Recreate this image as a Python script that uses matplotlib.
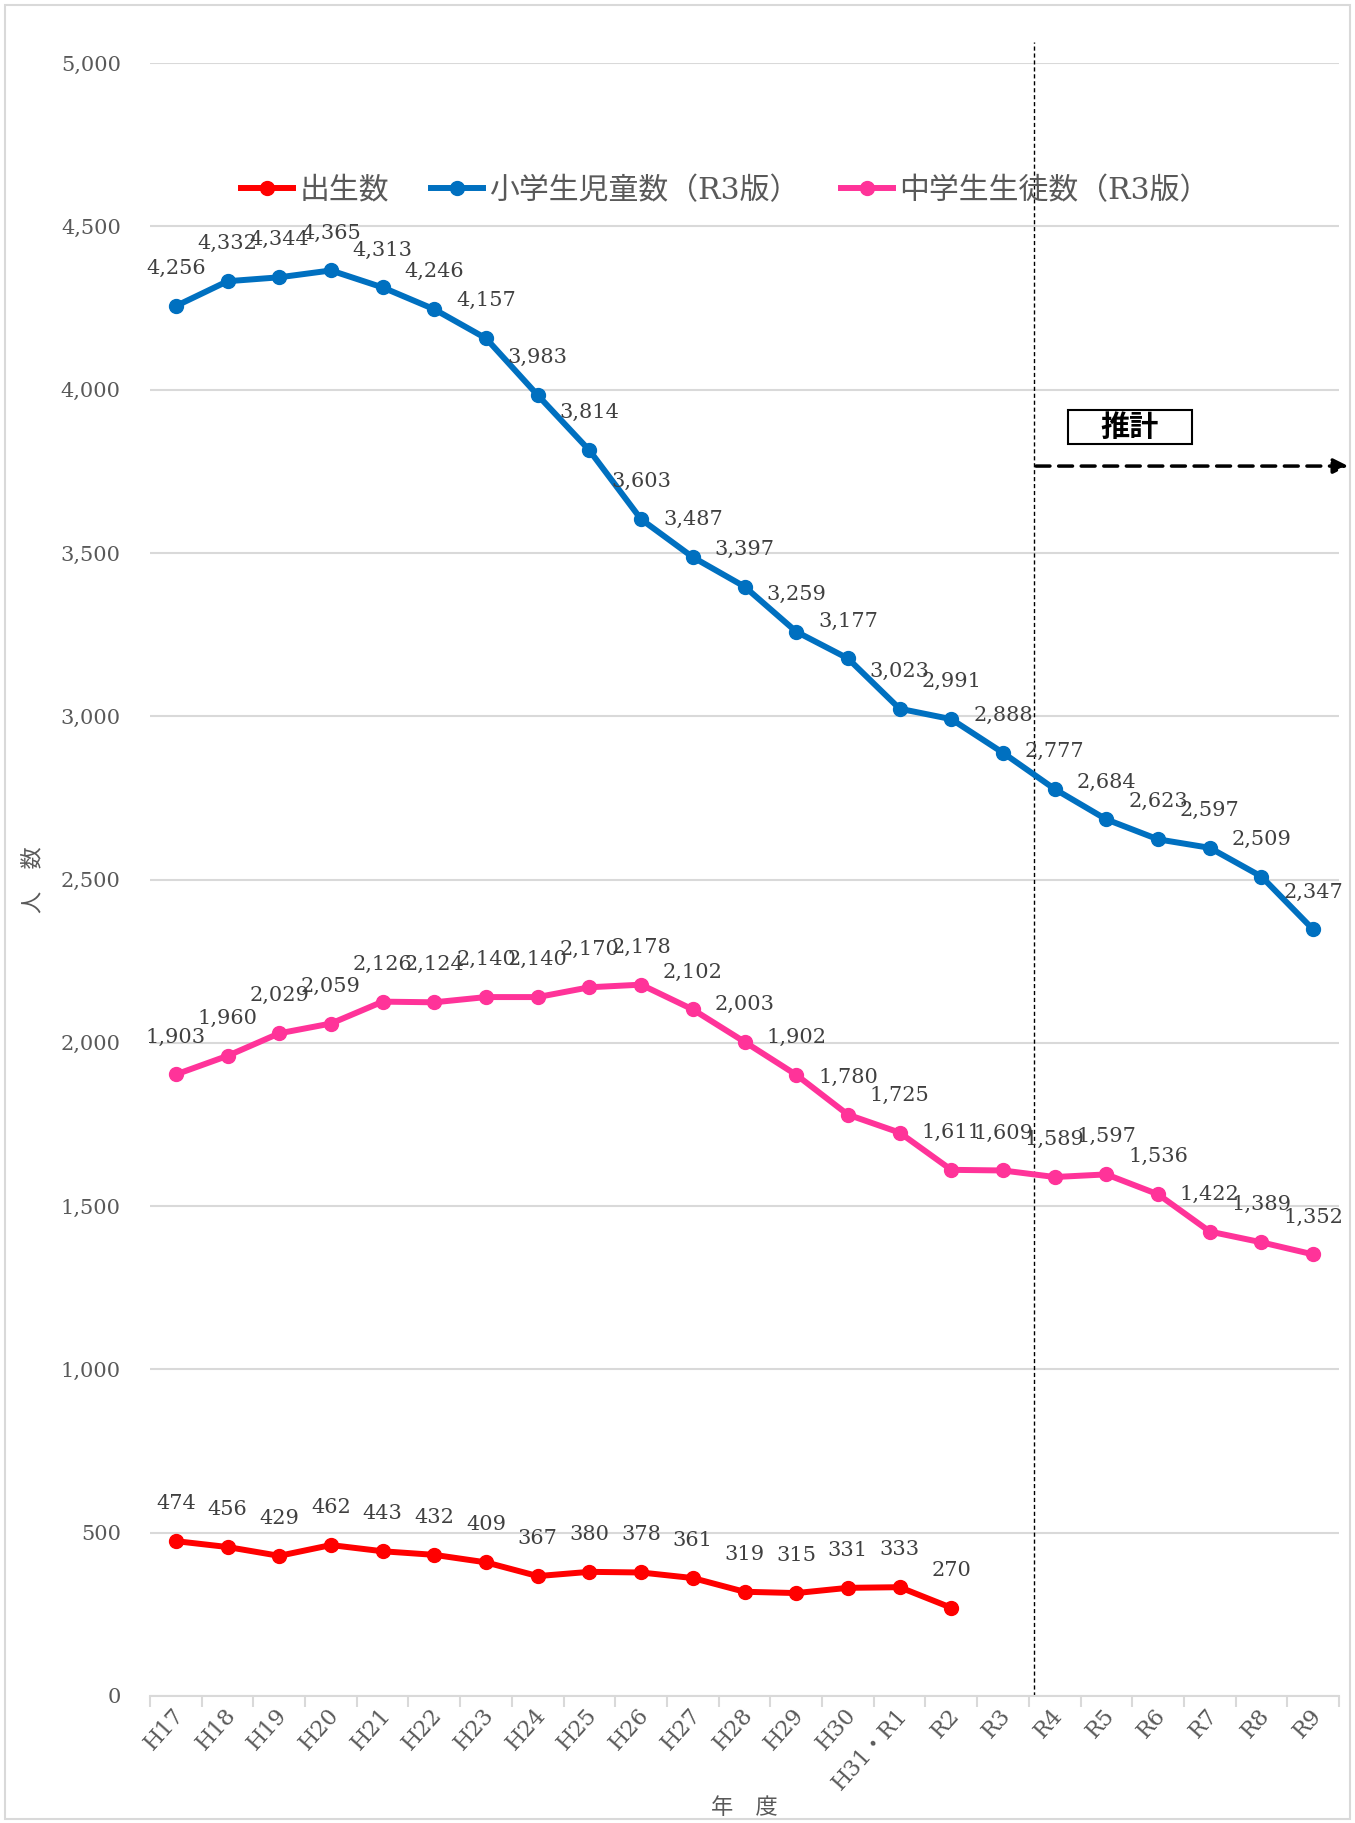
import matplotlib.pyplot as plt
import matplotlib.patches as patches
import matplotlib.transforms as mtransforms

plt.rcParams['font.family'] = ['DejaVu Serif', 'Noto Sans CJK JP']

nendo = ["H17", "H18", "H19", "H20", "H21", "H22", "H23", "H24", "H25", "H26",
         "H27", "H28", "H29", "H30", "H31・R1", "R2", "R3", "R4", "R5", "R6",
         "R7", "R8", "R9"]
shusseisu = [474, 456, 429, 462, 443, 432, 409, 367, 380, 378, 361, 319, 315,
             331, 333, 270]
shogakusei = [4256, 4332, 4344, 4365, 4313, 4246, 4157, 3983, 3814, 3603, 3487,
              3397, 3259, 3177, 3023, 2991, 2888, 2777, 2684, 2623, 2597, 2509,
              2347]
chugakusei = [1903, 1960, 2029, 2059, 2126, 2124, 2140, 2140, 2170, 2178, 2102,
              2003, 1902, 1780, 1725, 1611, 1609, 1589, 1597, 1536, 1422, 1389,
              1352]

series = [
    ("出生数", shusseisu, "#FF0000"),
    ("小学生児童数（R3版）", shogakusei, "#0070C0"),
    ("中学生生徒数（R3版）", chugakusei, "#FF3399"),
]

fig = plt.figure(figsize=(13.55, 18.23), dpi=100)
ax = fig.add_axes([0.1107, 0.0697, 0.8775, 0.8957])

# marco exterior
fig.add_artist(patches.Rectangle((0.004, 0.002), 0.992, 0.995, transform=fig.transFigure,
                                 fill=False, edgecolor="#d9d9d9", linewidth=1.5))

for nombre, valores, color in series:
    xs = list(range(len(valores)))
    ax.plot(xs, valores, color=color, linewidth=4.3, marker='o', markersize=10,
            label=nombre, zorder=3)
    for x, v in zip(xs, valores):
        ax.annotate(f"{v:,}", (x, v), xytext=(0, 27), textcoords='offset points',
                    ha='center', va='center', fontsize=15, color='#404040', zorder=4)

ax.set_xlim(-0.5, len(nendo) - 0.5)
ax.set_ylim(0, 5000)
ax.set_yticks(range(0, 5001, 500))
ax.set_yticklabels([f"{v:,}" for v in range(0, 5001, 500)])
ax.tick_params(axis='y', length=0, pad=21, labelsize=15, labelcolor='#595959')
ax.grid(axis='y', color='#d9d9d9', linewidth=1.5, zorder=0)

ax.set_xticks(range(len(nendo)))
ax.set_xticklabels(nendo, rotation=48, ha='right', fontsize=16, color='#595959')
ax.tick_params(axis='x', which='major', length=0, pad=6)
desplaza = mtransforms.ScaledTranslation(9 / 72, 0, fig.dpi_scale_trans)
for lab in ax.get_xticklabels():
    lab.set_transform(lab.get_transform() + desplaza)
ax.set_xticks([i - 0.5 for i in range(len(nendo) + 1)], minor=True)
ax.tick_params(axis='x', which='minor', length=8, width=1.5, color='#d9d9d9')

for s in ['left', 'right', 'top']:
    ax.spines[s].set_visible(False)
ax.spines['bottom'].set_color('#d9d9d9')
ax.spines['bottom'].set_linewidth(1.5)

ax.set_ylabel("人　数", fontsize=16, color='#595959', labelpad=12)
ax.set_xlabel("年　度", fontsize=16, color='#595959', labelpad=2)

# linea de inicio del 推計
ax.plot([16.6, 16.6], [0, 5065], color='black', linestyle=(0, (3, 2)), linewidth=1,
        clip_on=False, zorder=2)
ax.annotate("", xy=(22.68, 3766), xytext=(16.64, 3766),
            arrowprops=dict(arrowstyle='-|>', linestyle=(0, (4, 2.5)), linewidth=2.5,
                            color='black', mutation_scale=22, shrinkA=0, shrinkB=0),
            annotation_clip=False, zorder=5)
ax.add_patch(patches.Rectangle((17.26, 3833), 2.39, 104, facecolor='white',
                               edgecolor='black', linewidth=1.5, zorder=5))
ax.text(18.45, 3885, "推計", fontsize=21, fontweight='bold', ha='center', va='center',
        family=['Noto Sans CJK JP'], zorder=6)

ax.legend(loc='center', bbox_to_anchor=(0.484, 0.922), ncol=3, frameon=False,
          fontsize=21.5, handlelength=1.75, handletextpad=0.2, columnspacing=1.4,
          labelcolor='#595959')

fig.savefig("out.png", dpi=100)
